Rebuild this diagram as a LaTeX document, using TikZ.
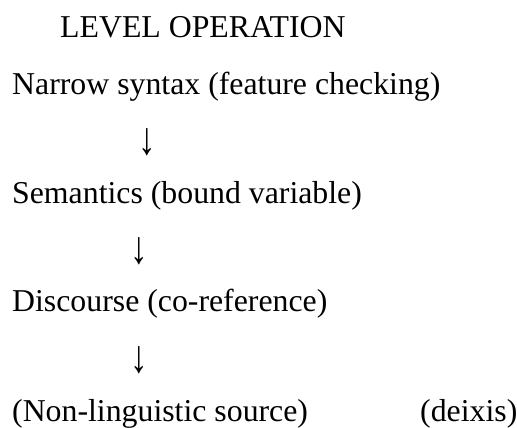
\documentclass[tikz,border=0pt]{standalone}
\usepackage{fontspec}
\setmainfont{Liberation Serif}
\begin{document}
\begin{tikzpicture}[x=1bp,y=-1bp,
  lbl/.style={anchor=base west,inner sep=0pt,font=\fontsize{31.8bp}{38bp}\selectfont},
  arr/.style={anchor=center,inner sep=0pt,font=\fontsize{31.8bp}{38bp}\selectfont}]
\useasboundingbox (0,0) rectangle (517,427);
\node[lbl] (head) at (60,37) {LEVEL OPERATION};
\node[lbl] (ns) at (12,94) {Narrow syntax (feature checking)};
\node[arr] (a1) at (147,142) {\scalebox{1.1}[1.45]{↓}};
\node[lbl] (sem) at (12,203) {Semantics (bound variable)};
\node[arr] (a2) at (139,251) {\scalebox{1.1}[1.45]{↓}};
\node[lbl] (disc) at (12,311) {Discourse (co-reference)};
\node[arr] (a3) at (139,360) {\scalebox{1.1}[1.45]{↓}};
\node[lbl] (nl) at (12,421) {(Non-linguistic source)};
\node[lbl] (deix) at (420,421) {(deixis)};
\end{tikzpicture}
\end{document}
